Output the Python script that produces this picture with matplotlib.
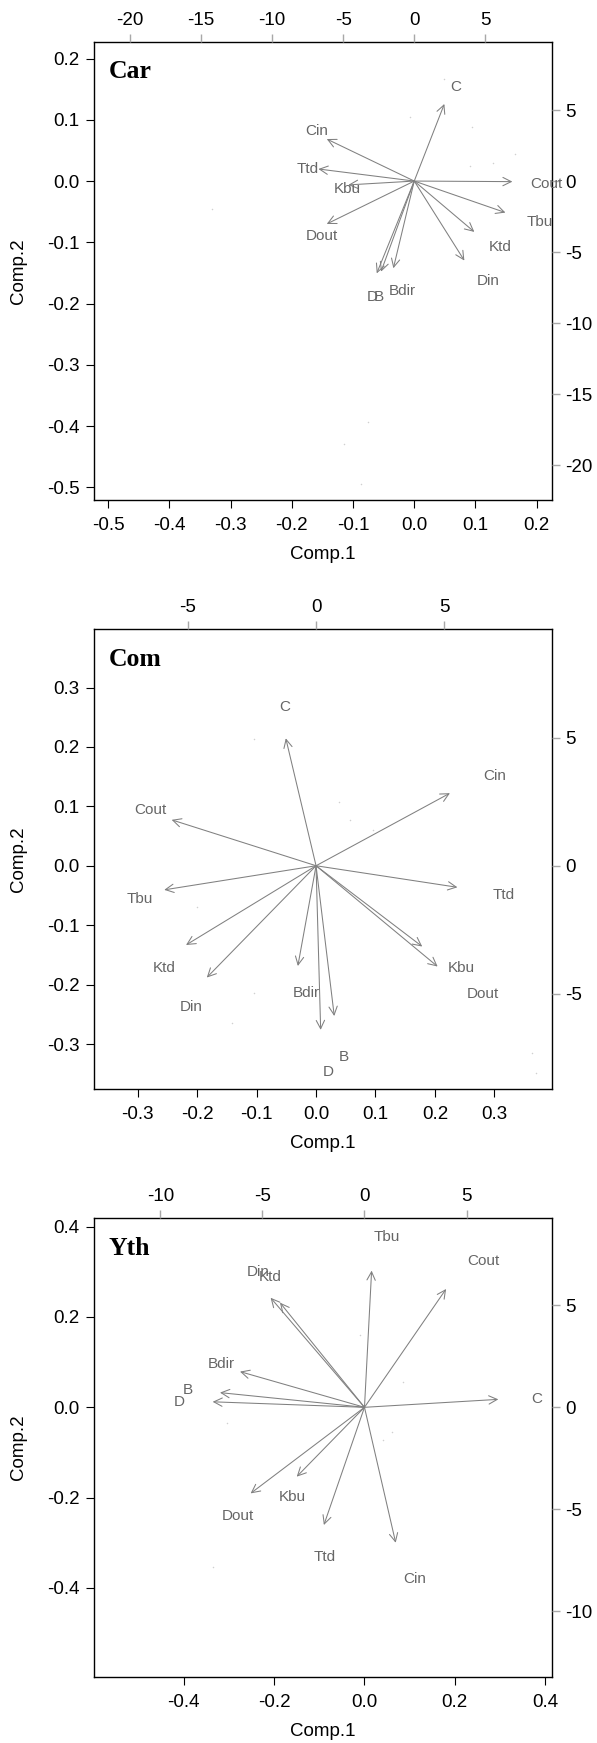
import matplotlib
matplotlib.use("Agg")
import matplotlib.pyplot as plt

plt.rcParams['font.family'] = ['Liberation Sans', 'DejaVu Sans']
plt.rcParams['axes.unicode_minus'] = False

# ---- Car panel: loadings (top/right scale), label spots, a few visible scores
car_names = ['C', 'Cin', 'Ttd', 'Kbu', 'Dout', 'Cout', 'Tbu', 'Ktd', 'Din', 'Bdir', 'B', 'D']
car_tip_x = [2.12, -6.16, -6.75, -4.64, -6.16, 6.91, 6.42, 4.23, 3.53, -1.47, -2.34, -2.64]
car_tip_y = [5.43, 2.96, 0.85, -0.27, -3.02, -0.04, -2.22, -3.58, -5.60, -6.14, -6.38, -6.50]
car_lab_x = [2.94, -6.87, -7.53, -4.68, -6.51, 9.33, 8.86, 6.04, 5.22, -0.84, -2.48, -2.99]
car_lab_y = [6.61, 3.53, 0.85, -0.56, -3.84, -0.20, -2.86, -4.62, -7.03, -7.74, -8.14, -8.14]
car_score_x = [-0.075, -0.115, -0.087, -0.331, 0.048, 0.095, 0.165, 0.091, 0.129, -0.007]
car_score_y = [-0.394, -0.430, -0.495, -0.046, 0.167, 0.089, 0.044, 0.024, 0.029, 0.104]

# ---- Com panel
com_names = ['C', 'Cin', 'Cout', 'Tbu', 'Ttd', 'Ktd', 'Din', 'Bdir', 'D', 'B', 'Kbu', 'Dout']
com_tip_x = [-1.18, 5.22, -5.63, -5.92, 5.51, -5.07, -4.26, -0.71, 0.18, 0.71, 4.14, 4.74]
com_tip_y = [4.97, 2.83, 1.79, -0.94, -0.84, -3.09, -4.36, -3.91, -6.40, -5.86, -3.15, -3.93]
com_lab_x = [-1.24, 6.95, -6.47, -6.89, 7.31, -5.93, -4.87, -0.39, 0.48, 1.07, 5.68, 6.50]
com_lab_y = [6.20, 3.50, 2.18, -1.29, -1.14, -3.97, -5.49, -4.95, -8.06, -7.44, -4.00, -5.00]
com_score_x = [0.364, 0.370, -0.105, 0.057, 0.038, 0.096, -0.200, -0.105, -0.142]
com_score_y = [-0.315, -0.348, 0.213, 0.077, 0.108, 0.060, -0.069, -0.214, -0.265]

# ---- Yth panel
yth_names = ['Tbu', 'Cout', 'C', 'Din', 'Ktd', 'Bdir', 'B', 'D', 'Dout', 'Kbu', 'Ttd', 'Cin']
yth_tip_x = [0.35, 4.00, 6.56, -4.60, -4.14, -6.10, -7.08, -7.44, -5.58, -3.32, -1.99, 1.53]
yth_tip_y = [6.70, 5.80, 0.39, 5.37, 5.13, 1.75, 0.72, 0.27, -4.22, -3.40, -5.77, -6.64]
yth_lab_x = [1.09, 5.82, 8.44, -5.20, -4.63, -7.00, -8.64, -9.08, -6.19, -3.52, -1.94, 2.48]
yth_lab_y = [8.33, 7.19, 0.41, 6.65, 6.37, 2.11, 0.85, 0.27, -5.31, -4.38, -7.32, -8.42]
yth_score_x = [0.062, -0.336, -0.010, 0.086, 0.042, -0.304]
yth_score_y = [-0.056, -0.354, 0.160, 0.056, -0.073, -0.036]

W, H = 597, 1743


def px_rect(left, top, right, bottom):
    return [left / W, 1 - bottom / H, (right - left) / W, (bottom - top) / H]


def draw_panel(fig, rect, title, score_xlim, score_ylim, load_xlim, load_ylim,
               score_ticks, load_ticks, names, tip_x, tip_y, lab_x, lab_y,
               score_x, score_y):
    ax = fig.add_axes(rect)
    ax.scatter(score_x, score_y, s=1.2, color='#d0d0d0', linewidths=0)
    ax.set_xlim(score_xlim)
    ax.set_ylim(score_ylim)
    ax.set_xticks(score_ticks)
    ax.set_xticklabels([f'{t:.1f}' for t in score_ticks])
    ax.set_yticks(score_ticks)
    ax.set_yticklabels([f'{t:.1f}' for t in score_ticks])
    ax.tick_params(direction='out', length=5.5, width=0.8, labelsize=13.5, color='black')
    ax.tick_params(axis='x', pad=7)
    ax.tick_params(axis='y', pad=4.5)
    for sp in ax.spines.values():
        sp.set_linewidth(1.0)
        sp.set_color('black')
    ax.text(0.5, -55 / 458.3, 'Comp.1', transform=ax.transAxes, ha='center',
            va='center', fontsize=13.5)
    ax.text(-75 / 458.3, 0.5, 'Comp.2', transform=ax.transAxes, ha='center',
            va='center', rotation=90, fontsize=13.5)
    ax.text(0.033, 0.921, title, transform=ax.transAxes, family='Liberation Serif',
            weight='bold', fontsize=18.5, va='baseline', ha='left')

    ax2 = fig.add_axes(rect, frameon=False)
    ax2.patch.set_visible(False)
    ax2.xaxis.tick_top()
    ax2.yaxis.tick_right()
    ax2.set_xlim(load_xlim)
    ax2.set_ylim(load_ylim)
    ax2.set_xticks(load_ticks)
    ax2.set_xticklabels([str(t) for t in load_ticks])
    ax2.set_yticks(load_ticks)
    ax2.set_yticklabels([str(t) for t in load_ticks])
    ax2.tick_params(direction='out', length=5.5, width=1.0, labelsize=13.5,
                    color='#a8a8a8', labelcolor='black', pad=4)

    for n, tx, ty, lx, ly in zip(names, tip_x, tip_y, lab_x, lab_y):
        ax2.annotate('', xy=(tx, ty), xytext=(0, 0),
                     arrowprops=dict(arrowstyle='->,head_length=0.6,head_width=0.3',
                                     color='#808080', lw=0.75, shrinkA=0, shrinkB=0))
        ax2.text(lx, ly, n, ha='center', va='center', fontsize=11,
                 color='#666666', clip_on=False)
    return ax, ax2


fig = plt.figure(figsize=(W / 100, H / 100), dpi=100)

draw_panel(fig, px_rect(93.7, 41.9, 552, 500), 'Car',
           (-0.5234, 0.2250), (-0.5208, 0.2273), (-22.57, 9.70), (-22.46, 9.80),
           [-0.5, -0.4, -0.3, -0.2, -0.1, 0.0, 0.1, 0.2], [-20, -15, -10, -5, 0, 5],
           car_names, car_tip_x, car_tip_y, car_lab_x, car_lab_y,
           car_score_x, car_score_y)

draw_panel(fig, px_rect(93.7, 629.3, 552, 1088.6), 'Com',
           (-0.374, 0.397), (-0.375, 0.398), (-8.67, 9.20), (-8.69, 9.22),
           [-0.3, -0.2, -0.1, 0.0, 0.1, 0.2, 0.3], [-5, 0, 5],
           com_names, com_tip_x, com_tip_y, com_lab_x, com_lab_y,
           com_score_x, com_score_y)

draw_panel(fig, px_rect(93.7, 1218.4, 552, 1676.8), 'Yth',
           (-0.599, 0.415), (-0.597, 0.418), (-13.27, 9.19), (-13.21, 9.26),
           [-0.4, -0.2, 0.0, 0.2, 0.4], [-10, -5, 0, 5],
           yth_names, yth_tip_x, yth_tip_y, yth_lab_x, yth_lab_y,
           yth_score_x, yth_score_y)

fig.savefig('out.png', dpi=100)
